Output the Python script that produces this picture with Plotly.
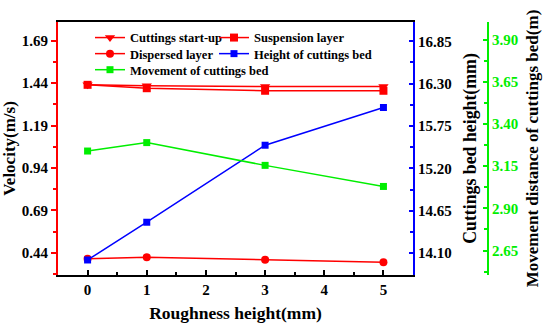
import plotly.graph_objects as go

roughness = [0, 1, 3, 5]
cuttings_startup = [1.43, 1.425, 1.42, 1.42]
suspension_layer = [1.43, 1.41, 1.395, 1.395]
dispersed_layer = [0.405, 0.415, 0.40, 0.385]
bed_height = [14.01, 14.50, 15.50, 15.99]
bed_movement = [3.24, 3.29, 3.155, 3.03]

vel_ticks = [0.44, 0.69, 0.94, 1.19, 1.44, 1.69]
height_ticks = [14.10, 14.65, 15.20, 15.75, 16.30, 16.85]
move_ticks = [2.65, 2.90, 3.15, 3.40, 3.65, 3.90]

RED = "#FF0000"
BLUE = "#0000FF"
GREEN = "#00EE00"
FONT = "Liberation Serif"

fig = go.Figure()
fig.add_trace(go.Scatter(x=roughness, y=cuttings_startup, name="Cuttings start-up",
                         mode="lines+markers", line=dict(color=RED, width=1.5),
                         marker=dict(symbol="triangle-down", size=9, color=RED),
                         legend="legend"))
fig.add_trace(go.Scatter(x=roughness, y=suspension_layer, name="Suspension layer",
                         mode="lines+markers", line=dict(color=RED, width=1.5),
                         marker=dict(symbol="square", size=8, color=RED),
                         legend="legend2"))
fig.add_trace(go.Scatter(x=roughness, y=dispersed_layer, name="Dispersed layer",
                         mode="lines+markers", line=dict(color=RED, width=1.5),
                         marker=dict(symbol="circle", size=8, color=RED),
                         legend="legend3"))
fig.add_trace(go.Scatter(x=roughness, y=bed_height, name="Height of cuttings bed",
                         mode="lines+markers", line=dict(color=BLUE, width=1.5),
                         marker=dict(symbol="square", size=7, color=BLUE), yaxis="y2",
                         legend="legend4"))
fig.add_trace(go.Scatter(x=roughness, y=bed_movement, name="Movement of cuttings bed",
                         mode="lines+markers", line=dict(color=GREEN, width=1.5),
                         marker=dict(symbol="square", size=7, color=GREEN), yaxis="y3",
                         legend="legend5"))

tickfont = dict(family=FONT, size=15, color="black", weight="bold")
legfont = dict(family=FONT, size=12.5, color="black", weight="bold")


def tfont(size):
    return dict(family=FONT, size=size, color="black", weight="bold")


def leg(x, y):
    return dict(orientation="h", x=x, y=y, xanchor="left", yanchor="middle",
                font=legfont, bgcolor="rgba(0,0,0,0)", itemwidth=30)


COL1, COL2 = 0.0657, 0.3203
ROW1, ROW2, ROW3 = 0.937, 0.8735, 0.810

fig.update_layout(
    width=550, height=330,
    margin=dict(l=58, r=5, t=22, b=55),
    paper_bgcolor="white", plot_bgcolor="white",
    font=dict(family=FONT, color="black"),
    showlegend=True,
    legend=leg(COL1, ROW1),
    legend2=leg(COL2, ROW1),
    legend3=leg(COL1, ROW2),
    legend4=leg(COL2, ROW2),
    legend5=leg(COL1, ROW3),
    xaxis=dict(domain=[0, 0.729], range=[-0.5, 5.5], tickvals=[0, 1, 2, 3, 4, 5],
               showgrid=False, zeroline=False, showline=True, linecolor="black",
               linewidth=2, mirror=True, ticks="inside", ticklen=5, tickwidth=1.5,
               tickcolor="black", minor=dict(ticks="inside", ticklen=3, dtick=0.5,
                                              tick0=0.5, tickcolor="black"),
               tickfont=tickfont,
               title=dict(text="Roughness height(mm)", font=tfont(17.5), standoff=10)),
    yaxis=dict(range=[0.31, 1.80], tickvals=vel_ticks, ticktext=[f"{v:.2f}" for v in vel_ticks],
               showgrid=False, zeroline=False, showline=True, linecolor=RED, linewidth=2,
               ticks="outside", ticklen=5, tickwidth=1.5, tickcolor=RED,
               minor=dict(ticks="outside", ticklen=3, dtick=0.125, tick0=0.44, tickcolor=RED),
               tickfont=tickfont,
               title=dict(text="Velocity(m/s)", font=tfont(17), standoff=4)),
    yaxis2=dict(range=[13.815, 17.10], tickvals=height_ticks,
                ticktext=[f"{v:.2f}" for v in height_ticks],
                overlaying="y", side="right", anchor="x",
                showgrid=False, zeroline=False, showline=True, linecolor=BLUE, linewidth=2,
                ticks="inside", ticklen=4, tickwidth=1.5, tickcolor=BLUE,
                minor=dict(ticks="inside", ticklen=3, dtick=0.275, tick0=14.10, tickcolor=BLUE),
                tickfont=tickfont, ticklabelstandoff=0,
                title=dict(text="Cuttings bed height(mm)", font=tfont(17.8), standoff=13)),
    yaxis3=dict(range=[2.505, 4.005], tickvals=move_ticks,
                ticktext=[f"{v:.2f}" for v in move_ticks],
                overlaying="y", side="right", anchor="free", position=0.883,
                showgrid=False, zeroline=False, showline=True, linecolor=GREEN, linewidth=2,
                ticks="inside", ticklen=4, tickwidth=1.5, tickcolor=GREEN,
                minor=dict(ticks="inside", ticklen=3, dtick=0.125, tick0=2.65, tickcolor=GREEN),
                tickfont=dict(family=FONT, size=15, color=GREEN, weight="bold"),
                ticklabelstandoff=0,
                title=dict(text="Movement distance of cuttings bed(m)", font=tfont(17), standoff=8)),
)

fig.write_html("out.html", config={"displayModeBar": False},
               post_script="document.body.style.margin='0px';document.body.style.overflow='hidden';")
